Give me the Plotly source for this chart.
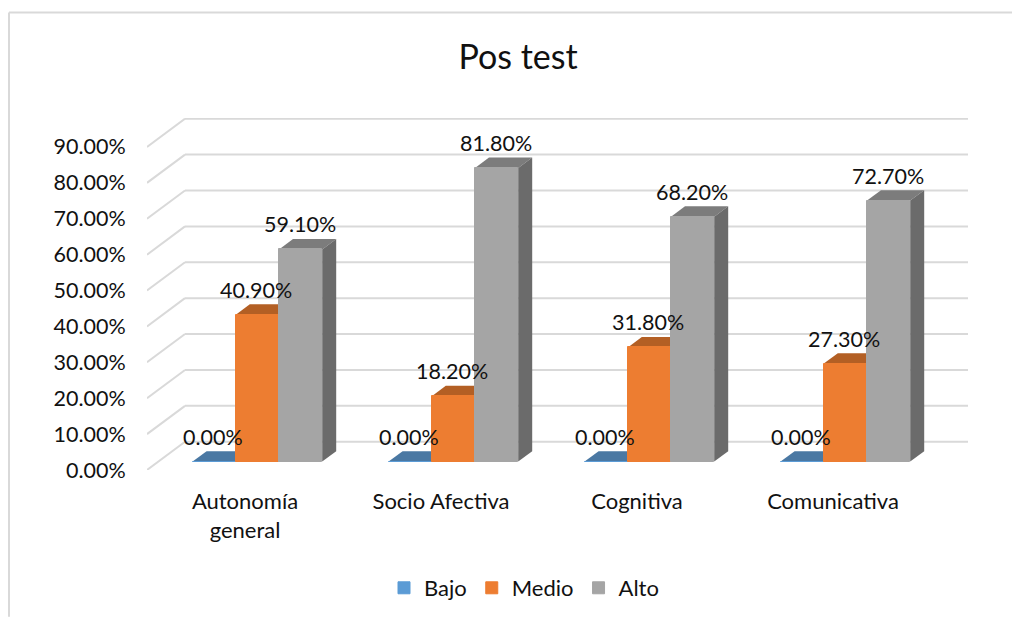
import plotly.graph_objects as go

categories = ["Autonomía<br>general", "Socio Afectiva", "Cognitiva", "Comunicativa"]
bajo = [0.0, 0.0, 0.0, 0.0]
medio = [0.409, 0.182, 0.318, 0.273]
alto = [0.591, 0.818, 0.682, 0.727]
ticks = [0, 0.1, 0.2, 0.3, 0.4, 0.5, 0.6, 0.7, 0.8, 0.9]

series = [
    ("Bajo", bajo, "#5B9BD5", "#4A78A3", "#3F6B94"),
    ("Medio", medio, "#ED7D31", "#B35F24", "#A9581F"),
    ("Alto", alto, "#A5A5A5", "#7C7C7C", "#6B6B6B"),
]

FONT = "Lato"
TEXT = "#111111"
W, H = 1012, 621
L, R, T, B = 147, 968, 118, 473
PX_X = 196.0      # pixels per category
PX_Y = 362.0      # pixels per 100 %
WALL_DX, WALL_DY = 38 / PX_X, 28.5 / PX_Y
BAR_DX, BAR_DY = 14 / PX_X, 10.5 / PX_Y
BAR_W = 43.2 / PX_X
BAR_X0 = 45.6 / PX_X
FLOOR = 8.5 / PX_Y

xrange = [0, (R - L) / PX_X]
yrange = [0, (B - T) / PX_Y]


def path(points):
    return "M " + " L ".join(f"{x:.5f},{y:.5f}" for x, y in points) + " Z"


shapes = []
# chart frame (paper coordinates, given as page pixels)
fx = lambda p: (p - L) / (R - L)
fy = lambda p: (B - p) / (B - T)
frame = dict(color="#D9D9D9", width=2)
for (x0, y0, x1, y1) in [(9, 11.5, 1012, 11.5), (9, 11.5, 9, 621)]:
    shapes.append(dict(type="line", xref="paper", yref="paper", x0=fx(x0), y0=fy(y0),
                       x1=fx(x1), y1=fy(y1), line=frame, layer="below"))

# walls gridlines
for t in ticks:
    for a, b in [((0, t), (WALL_DX, t + WALL_DY)),
                 ((WALL_DX, t + WALL_DY), (xrange[1], t + WALL_DY))]:
        shapes.append(dict(type="line", xref="x", yref="y", x0=a[0], y0=a[1], x1=b[0], y1=b[1],
                           line=dict(color="#D9D9D9", width=2), layer="below"))

fig = go.Figure()
annotations = []
for k, (name, vals, front, top, side) in enumerate(series):
    xs = [i + BAR_X0 + k * BAR_W for i in range(len(vals))]
    for x0, v in zip(xs, vals):
        y = FLOOR + v
        shapes.append(dict(type="path", xref="x", yref="y", layer="below", line=dict(width=0),
                           fillcolor=top,
                           path=path([(x0, y), (x0 + BAR_W, y),
                                      (x0 + BAR_W + BAR_DX, y + BAR_DY), (x0 + BAR_DX, y + BAR_DY)])))
        if v > 0:
            shapes.append(dict(type="path", xref="x", yref="y", layer="below", line=dict(width=0),
                               fillcolor=side,
                               path=path([(x0 + BAR_W, FLOOR), (x0 + BAR_W + BAR_DX, FLOOR + BAR_DY),
                                          (x0 + BAR_W + BAR_DX, y + BAR_DY), (x0 + BAR_W, y)])))
        annotations.append(dict(x=x0 + BAR_W / 2, y=y, xref="x", yref="y", text=f"{v:.2%}",
                                showarrow=False, yshift=25, xshift=-1,
                                font=dict(family=FONT, size=21.5, color=TEXT)))
    fig.add_trace(go.Bar(name=name, x=[x + BAR_W / 2 for x in xs], y=vals, base=FLOOR, width=BAR_W,
                         marker=dict(color=front, line=dict(width=1, color=front))))

fig.update_layout(
    width=W, height=H, autosize=False, barmode="overlay", bargap=0,
    paper_bgcolor="white", plot_bgcolor="rgba(0,0,0,0)",
    margin=dict(l=L, r=W - R, t=T, b=H - B, pad=0),
    title=dict(text="Pos test", x=518 / W, y=1 - 57 / H, xref="container", yref="container",
               xanchor="center", yanchor="middle", font=dict(family=FONT, size=34, color=TEXT)),
    font=dict(family=FONT, size=21.5, color=TEXT),
    shapes=shapes, annotations=annotations,
    showlegend=True,
    legend=dict(orientation="h", x=fx(384), xanchor="left", y=fy(592), yanchor="middle",
                bgcolor="rgba(0,0,0,0)", font=dict(family=FONT, size=22, color=TEXT),
                traceorder="normal"),
)
fig.update_xaxes(range=xrange, tickmode="array", tickvals=[i + 0.5 for i in range(4)], ticktext=categories,
                 showgrid=False, zeroline=False, showline=False, ticks="outside", ticklen=12,
                 tickcolor="rgba(0,0,0,0)", tickangle=0, tickfont=dict(family=FONT, size=22, color=TEXT))
fig.update_yaxes(range=yrange, tickmode="array", tickvals=ticks, tickformat=".2%",
                 showgrid=False, zeroline=False, showline=False, ticks="outside", ticklen=16,
                 tickcolor="rgba(0,0,0,0)", tickfont=dict(family=FONT, size=21.5, color=TEXT))

fig.write_html("out.html", config=dict(displayModeBar=False),
               post_script="document.documentElement.style.overflow='hidden';document.body.style.margin='0';")
